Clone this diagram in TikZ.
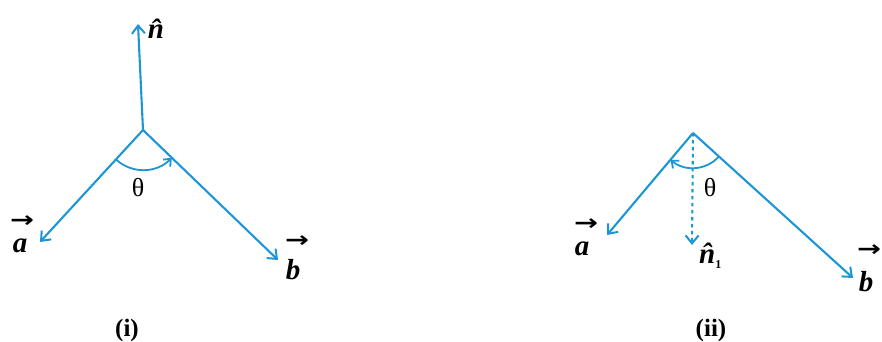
\documentclass[tikz,border=0pt]{standalone}
\usepackage{fontspec}
\setmainfont{Liberation Serif}
\newfontfamily\arrfont{DejaVu Sans}
\usetikzlibrary{arrows.meta}
\definecolor{vblue}{RGB}{28,150,212}
\tikzset{
  vec/.style={draw=vblue, line width=2.1pt, -{Straight Barb[length=8pt,width=13pt,line width=2pt]}},
  dvec/.style={vec, dash pattern=on 3.5pt off 3.5pt},
  anglearc/.style={draw=vblue, line width=1.8pt, -{Straight Barb[length=6pt,width=10pt,line width=1.8pt]}},
  lett/.style={font=\fontsize{29}{30}\selectfont\bfseries\itshape, inner sep=0pt},
  lettlow/.style={lett, text height=1.45ex, text depth=0pt},
  arrg/.style={font=\arrfont\fontsize{22}{24}\selectfont\bfseries, inner sep=0pt, xscale=1.3, text height=1.2ex, text depth=0pt},
  thet/.style={font=\fontsize{26}{28}\selectfont, inner sep=0pt},
  figlabel/.style={font=\fontsize{25}{27}\selectfont\bfseries, inner sep=0pt}
}
\begin{document}
\begin{tikzpicture}[x=1pt,y=1pt]
\useasboundingbox (0,0) rectangle (882,342);
% ---------- (i) ----------
\coordinate (V1) at (143,212);
\coordinate (N1) at (138,318);
\coordinate (A1) at (40,100);
\coordinate (B1) at (278,82);
\draw[vec] (V1) -- (N1);
\draw[vec] (V1) -- (A1);
\draw[vec] (V1) -- (B1);
\draw[anglearc] ([shift={(227:40)}]V1) arc[start angle=227, end angle=316, radius=40];
\node[lett] (ln1) at (156,313) {\^{n}};
\node[lettlow, anchor=base] (la1) at (20,89) {a};
\node[arrg] (aa1) at (22,117) {→};
\node[lett] (lb1) at (293,72) {b};
\node[arrg] (ab1) at (297,97) {→};
\node[thet] (t1) at (138,154) {θ};
\node[figlabel] (c1) at (127,12) {(i)};
% ---------- (ii) ----------
\coordinate (V2) at (693,209);
\coordinate (A2) at (607,107);
\coordinate (B2) at (853,64);
\coordinate (D2) at (692,97);
\draw[vec] (V2) -- (A2);
\draw[vec] (V2) -- (B2);
\draw[dvec] (V2) -- (D2);
\draw[anglearc] ([shift={(318:35)}]V2) arc[start angle=318, end angle=230, radius=35];
\node[lettlow, anchor=base] (la2) at (582,86) {a};
\node[arrg] (aa2) at (586,114) {→};
\node[lett] (lb2) at (866,60) {b};
\node[arrg] (ab2) at (869,88) {→};
\node[lett, anchor=west] (ln2) at (699,86) {\^{n}\raisebox{-5pt}{\fontsize{12}{13}\selectfont\upshape 1}};
\node[thet] (t2) at (710,154) {θ};
\node[figlabel] (c2) at (711,12) {(ii)};
\end{tikzpicture}
\end{document}
